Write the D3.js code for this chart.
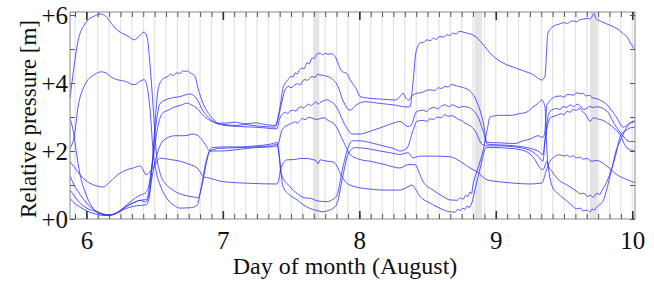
<!DOCTYPE html>
<html><head><meta charset="utf-8">
<script src="https://cdn.jsdelivr.net/npm/d3@7"></script>
<style>
body{margin:0;background:#fff;}
svg{display:block;}
text{font-family:"Liberation Serif","Times New Roman",serif;fill:#111;}
</style>
</head><body>
<svg id="chart" width="654" height="281"></svg>
<script>
// ---- data: [day of August, relative pressure m] ----
const seriesA = [[5.881,3.56],[5.910,4.5],[5.939,5.24],[5.983,5.7],[6.027,5.9],[6.064,5.98],[6.100,6.03],[6.144,5.96],[6.174,5.8],[6.210,5.62],[6.247,5.5],[6.306,5.38],[6.350,5.27],[6.393,5.4],[6.423,5.5],[6.445,5.35],[6.467,4.5],[6.489,3.3],[6.511,2.0],[6.540,1.35],[6.577,1.05],[6.613,0.91],[6.708,0.71],[6.782,0.65],[6.818,0.62],[6.848,1.0],[6.877,1.6],[6.906,2.0],[6.979,2.08],[7.126,2.1],[7.236,2.12],[7.346,2.15],[7.397,2.2],[7.412,1.9],[7.426,1.35],[7.492,0.95],[7.544,0.75],[7.602,0.62],[7.639,0.61],[7.697,0.53],[7.763,0.51],[7.807,0.58],[7.837,0.7],[7.873,1.4],[7.910,2.0],[7.947,2.3],[8.005,2.3],[8.078,2.25],[8.174,2.15],[8.247,2.08],[8.298,2.0],[8.349,2.09],[8.393,2.6],[8.423,2.88],[8.47,2.9],[8.495,2.87],[8.518,2.95],[8.545,2.93],[8.569,3.0],[8.60,2.98],[8.628,3.07],[8.65,3.02],[8.675,3.04],[8.701,3.0],[8.73,2.92],[8.75,2.9],[8.774,2.82],[8.811,2.75],[8.848,2.6],[8.899,2.2],[8.936,2.15],[9.031,2.15],[9.141,2.12],[9.251,2.02],[9.309,1.85],[9.346,1.7],[9.360,2.3],[9.382,2.8],[9.397,2.97],[9.448,3.05],[9.48,3.1],[9.50,3.06],[9.522,3.17],[9.545,3.14],[9.566,3.22],[9.59,3.2],[9.617,3.26],[9.635,3.16],[9.654,3.1],[9.67,3.0],[9.690,2.87],[9.715,2.98],[9.741,2.95],[9.785,2.9],[9.837,2.77],[9.910,2.48],[9.961,2.09],[10.027,1.99]];
const seriesB = [[5.881,2.1],[5.895,2.2],[5.910,2.4],[5.939,3.3],[5.983,3.9],[6.012,4.1],[6.042,4.2],[6.108,4.33],[6.144,4.3],[6.174,4.2],[6.210,4.12],[6.284,4.05],[6.350,3.95],[6.393,4.05],[6.423,4.1],[6.445,3.9],[6.467,3.2],[6.489,2.0],[6.511,1.4],[6.540,1.0],[6.591,0.6],[6.650,0.38],[6.686,0.32],[6.760,0.33],[6.811,0.4],[6.840,0.9],[6.877,1.7],[6.921,2.1],[6.994,2.12],[7.126,2.12],[7.236,2.15],[7.346,2.2],[7.397,2.25],[7.412,1.9],[7.441,0.95],[7.492,0.7],[7.544,0.56],[7.588,0.42],[7.639,0.31],[7.690,0.25],[7.734,0.21],[7.771,0.25],[7.807,0.31],[7.837,0.46],[7.881,1.3],[7.917,1.9],[7.969,2.1],[8.042,2.08],[8.152,2.0],[8.225,1.95],[8.298,1.9],[8.357,1.95],[8.393,1.8],[8.445,1.85],[8.555,1.85],[8.665,1.83],[8.716,1.75],[8.760,1.64],[8.811,1.5],[8.862,1.39],[8.936,1.15],[8.994,1.11],[9.119,1.06],[9.251,1.03],[9.338,1.06],[9.368,1.4],[9.397,1.7],[9.470,1.89],[9.50,1.85],[9.52,1.88],[9.545,1.83],[9.566,1.86],[9.59,1.8],[9.617,1.82],[9.64,1.76],[9.668,1.78],[9.70,1.7],[9.741,1.72],[9.815,1.55],[9.888,1.3],[9.961,1.16],[10.027,1.06]];
const seriesC = [[5.881,1.68],[5.917,1.5],[5.954,1.3],[5.990,1.15],[6.027,1.05],[6.078,0.97],[6.122,0.94],[6.174,1.1],[6.247,1.35],[6.298,1.45],[6.342,1.5],[6.393,1.56],[6.415,1.45],[6.437,1.3],[6.467,1.4],[6.503,1.6],[6.540,1.79],[6.613,1.75],[6.686,1.7],[6.760,1.6],[6.811,1.5],[6.833,1.39],[6.855,1.25],[6.906,1.2],[7.001,1.1],[7.199,1.05],[7.397,1.03],[7.412,1.2],[7.426,1.5],[7.470,1.74],[7.529,1.75],[7.566,1.78],[7.617,1.78],[7.654,1.75],[7.683,1.72],[7.697,1.62],[7.712,1.74],[7.763,1.7],[7.807,1.68],[7.837,1.55],[7.859,1.35],[7.910,1.05],[7.969,0.95],[8.078,0.88],[8.188,0.85],[8.298,0.85],[8.357,0.95],[8.386,1.0],[8.408,0.9],[8.445,0.66],[8.503,0.5],[8.569,0.36],[8.628,0.25],[8.665,0.21],[8.701,0.2],[8.72,0.28],[8.738,0.25],[8.76,0.32],[8.775,0.28],[8.789,0.38],[8.805,0.34],[8.826,0.5],[8.855,1.0],[8.892,1.6],[8.928,2.1],[8.994,2.1],[9.104,2.08],[9.214,2.0],[9.287,1.75],[9.324,1.5],[9.346,1.45],[9.375,1.7],[9.397,1.2],[9.419,0.91],[9.456,0.75],[9.492,0.62],[9.529,0.5],[9.566,0.37],[9.59,0.3],[9.617,0.32],[9.64,0.24],[9.668,0.26],[9.69,0.2],[9.705,0.3],[9.72,0.26],[9.741,0.36],[9.785,0.52],[9.815,0.9],[9.851,1.5],[9.881,2.0],[9.910,2.28],[9.946,2.6],[9.983,2.82],[10.027,2.9]];
const seriesD = [[5.881,2.95],[5.903,2.6],[5.925,2.0],[5.954,1.3],[5.990,0.8],[6.042,0.35],[6.100,0.15],[6.174,0.12],[6.232,0.2],[6.284,0.35],[6.357,0.5],[6.393,0.55],[6.430,0.5],[6.452,0.6],[6.489,1.4],[6.525,2.0],[6.562,2.3],[6.650,2.45],[6.723,2.45],[6.782,2.5],[6.833,2.4],[6.870,2.2],[6.906,2.0],[6.979,2.0],[7.126,2.05],[7.236,2.1],[7.346,2.12],[7.397,2.15],[7.419,2.4],[7.434,2.63],[7.470,2.75],[7.507,2.82],[7.53,2.86],[7.545,2.82],[7.566,2.9],[7.585,2.96],[7.602,2.92],[7.63,2.99],[7.654,2.97],[7.68,2.93],[7.712,2.95],[7.74,2.98],[7.771,2.9],[7.822,2.77],[7.881,2.3],[7.932,1.9],[8.005,1.75],[8.078,1.7],[8.188,1.6],[8.298,1.5],[8.357,1.6],[8.408,1.6],[8.445,1.3],[8.467,1.1],[8.540,0.85],[8.606,0.68],[8.665,0.56],[8.716,0.55],[8.74,0.62],[8.76,0.58],[8.78,0.7],[8.795,0.66],[8.811,0.8],[8.822,0.74],[8.833,1.0],[8.870,1.5],[8.906,2.0],[8.936,2.6],[8.958,3.0],[9.031,3.05],[9.104,3.05],[9.177,3.1],[9.229,3.15],[9.273,3.3],[9.309,3.4],[9.338,3.5],[9.360,3.3],[9.375,2.0],[9.382,1.6],[9.412,1.4],[9.448,1.2],[9.522,1.0],[9.595,0.81],[9.62,0.74],[9.646,0.76],[9.67,0.66],[9.690,0.7],[9.715,0.64],[9.741,0.76],[9.76,0.72],[9.778,0.84],[9.815,1.11],[9.873,1.79],[9.917,2.48],[9.954,2.6],[9.983,2.68],[10.027,2.7]];
const seriesE = [[5.881,1.26],[5.910,1.0],[5.932,0.85],[5.976,0.6],[6.027,0.36],[6.064,0.25],[6.100,0.18],[6.174,0.12],[6.247,0.25],[6.320,0.5],[6.393,0.7],[6.430,0.76],[6.452,0.9],[6.489,1.8],[6.518,2.6],[6.555,3.1],[6.599,3.2],[6.650,3.3],[6.694,3.35],[6.738,3.41],[6.774,3.35],[6.811,3.26],[6.855,3.05],[6.906,2.9],[6.965,2.8],[7.016,2.75],[7.126,2.72],[7.236,2.7],[7.309,2.68],[7.397,2.65],[7.412,2.9],[7.434,3.07],[7.46,3.14],[7.475,3.1],[7.492,3.18],[7.52,3.2],[7.535,3.17],[7.551,3.26],[7.575,3.3],[7.59,3.26],[7.602,3.3],[7.63,3.38],[7.645,3.33],[7.654,3.36],[7.685,3.44],[7.70,3.38],[7.712,3.42],[7.74,3.48],[7.763,3.51],[7.79,3.46],[7.822,3.36],[7.895,2.77],[7.947,2.5],[8.005,2.5],[8.078,2.58],[8.152,2.68],[8.247,2.82],[8.298,2.87],[8.357,2.72],[8.386,2.8],[8.401,3.0],[8.423,3.17],[8.47,3.2],[8.49,3.16],[8.518,3.25],[8.55,3.28],[8.575,3.24],[8.60,3.32],[8.628,3.36],[8.655,3.3],[8.68,3.36],[8.701,3.33],[8.73,3.28],[8.755,3.31],[8.796,3.29],[8.833,3.2],[8.870,3.0],[8.906,2.6],[8.936,2.2],[9.031,2.18],[9.141,2.15],[9.251,2.08],[9.309,2.0],[9.346,1.9],[9.360,2.3],[9.382,3.0],[9.397,3.17],[9.448,3.25],[9.47,3.22],[9.492,3.31],[9.52,3.28],[9.544,3.36],[9.57,3.3],[9.595,3.38],[9.62,3.32],[9.645,3.22],[9.668,3.26],[9.69,3.32],[9.705,3.28],[9.741,3.3],[9.815,3.17],[9.873,2.77],[9.925,2.48],[9.983,2.28],[10.027,2.28]];
const seriesF = [[5.881,0.85],[5.917,0.65],[5.954,0.47],[6.012,0.3],[6.078,0.21],[6.159,0.1],[6.232,0.2],[6.306,0.4],[6.357,0.5],[6.393,0.55],[6.437,0.57],[6.452,0.7],[6.481,1.6],[6.511,2.8],[6.540,3.4],[6.613,3.55],[6.686,3.6],[6.760,3.68],[6.804,3.56],[6.855,3.18],[6.906,2.95],[6.965,2.8],[7.016,2.78],[7.089,2.75],[7.163,2.78],[7.236,2.74],[7.309,2.72],[7.382,2.7],[7.419,3.2],[7.456,3.8],[7.48,3.9],[7.50,3.86],[7.529,3.95],[7.55,3.98],[7.565,3.94],[7.585,4.06],[7.602,4.1],[7.62,4.08],[7.654,4.2],[7.675,4.16],[7.695,4.26],[7.712,4.24],[7.74,4.22],[7.763,4.2],[7.807,4.1],[7.844,3.9],[7.873,3.56],[7.932,3.2],[7.976,3.35],[8.042,3.45],[8.152,3.4],[8.262,3.35],[8.335,3.3],[8.371,3.3],[8.393,4.0],[8.415,4.9],[8.445,5.18],[8.47,5.2],[8.496,5.27],[8.52,5.25],[8.545,5.32],[8.56,5.28],[8.591,5.37],[8.62,5.35],[8.64,5.42],[8.66,5.4],[8.687,5.47],[8.71,5.44],[8.73,5.52],[8.760,5.5],[8.785,5.47],[8.811,5.45],[8.870,5.3],[8.914,5.1],[8.958,4.88],[9.009,4.7],[9.053,4.59],[9.141,4.45],[9.229,4.32],[9.273,4.25],[9.309,4.14],[9.338,4.09],[9.360,4.2],[9.382,5.47],[9.419,5.66],[9.470,5.74],[9.50,5.78],[9.52,5.75],[9.544,5.8],[9.57,5.83],[9.59,5.8],[9.617,5.86],[9.64,5.88],[9.668,5.9],[9.69,5.88],[9.705,5.95],[9.719,6.05],[9.734,5.9],[9.778,5.8],[9.837,5.7],[9.888,5.6],[9.925,5.48],[9.961,5.36],[9.990,5.15],[10.027,4.96]];
const seriesG = [[5.881,0.6],[5.917,0.45],[5.954,0.35],[6.012,0.22],[6.064,0.15],[6.137,0.1],[6.210,0.15],[6.284,0.3],[6.342,0.37],[6.393,0.4],[6.437,0.42],[6.459,0.6],[6.481,1.5],[6.503,2.8],[6.525,3.8],[6.555,4.1],[6.599,4.2],[6.62,4.26],[6.635,4.22],[6.66,4.3],[6.686,4.28],[6.705,4.36],[6.723,4.34],[6.74,4.36],[6.760,4.3],[6.796,4.2],[6.818,3.85],[6.855,3.4],[6.884,3.17],[6.928,2.95],[6.965,2.82],[7.016,2.82],[7.089,2.85],[7.163,2.8],[7.236,2.83],[7.309,2.78],[7.382,2.75],[7.419,3.3],[7.441,3.85],[7.478,4.1],[7.50,4.2],[7.515,4.17],[7.529,4.3],[7.545,4.27],[7.56,4.38],[7.58,4.44],[7.595,4.42],[7.617,4.6],[7.632,4.56],[7.654,4.74],[7.67,4.72],[7.69,4.86],[7.712,4.88],[7.73,4.83],[7.75,4.87],[7.771,4.85],[7.80,4.86],[7.822,4.78],[7.873,4.34],[7.910,4.28],[7.932,4.1],[7.983,3.79],[8.005,3.6],[8.078,3.55],[8.188,3.52],[8.262,3.5],[8.298,3.6],[8.320,3.7],[8.342,3.55],[8.364,3.5],[8.379,3.6],[8.423,3.7],[8.46,3.72],[8.49,3.78],[8.518,3.8],[8.55,3.78],[8.58,3.86],[8.60,3.84],[8.628,3.9],[8.65,3.88],[8.675,3.96],[8.701,3.93],[8.725,3.9],[8.75,3.88],[8.774,3.85],[8.80,3.8],[8.826,3.7],[8.870,3.36],[8.906,2.88],[8.936,2.25],[9.031,2.24],[9.141,2.22],[9.199,2.3],[9.251,2.35],[9.309,2.45],[9.346,2.4],[9.360,2.6],[9.375,3.36],[9.448,3.61],[9.48,3.62],[9.50,3.58],[9.52,3.66],[9.544,3.66],[9.57,3.64],[9.595,3.72],[9.615,3.68],[9.639,3.7],[9.66,3.62],[9.685,3.64],[9.712,3.56],[9.74,3.54],[9.763,3.5],[9.815,3.36],[9.888,2.97],[9.932,2.7],[9.983,2.82],[10.027,2.87]];

const dayTicks = [6, 7, 8, 9, 10];
const pressureLabelTicks = [0, 2, 4, 6];
const pressureTicks = [0, 1, 2, 3, 4, 5, 6];
const bandStart = [7.663, 8.845, 9.690];
const bandEnd   = [7.707, 8.900, 9.744];

// ---- layout ----
const W = 654, H = 281;
const m = {top: 12, right: 19, bottom: 62, left: 70};
const FONT = '"Liberation Serif","Times New Roman",serif';
const x = d3.scaleLinear().domain([5.88, 10.02]).range([m.left, W - m.right]);
const y = d3.scaleLinear().domain([0, 6.09]).range([H - m.bottom, m.top]);
const twoHour = d3.range(Math.ceil(5.88 * 12), Math.floor(10.02 * 12) + 1).map(k => k / 12);

const svg = d3.select('#chart');
svg.append('clipPath').attr('id', 'clip').append('rect')
  .attr('x', m.left).attr('y', m.top)
  .attr('width', W - m.left - m.right).attr('height', H - m.top - m.bottom);

// shaded bands
svg.append('g').selectAll('rect').data(bandStart).join('rect')
  .attr('x', d => x(d)).attr('width', (d, i) => x(bandEnd[i]) - x(d))
  .attr('y', m.top).attr('height', H - m.top - m.bottom)
  .attr('fill', '#e4e4e4');

// vertical grid every two hours
svg.append('g').selectAll('line').data(twoHour).join('line')
  .attr('x1', d => x(d)).attr('x2', d => x(d))
  .attr('y1', m.top).attr('y2', H - m.bottom)
  .attr('stroke', '#e3e3e3').attr('stroke-width', 1.2);

// series
const series = [seriesA, seriesB, seriesC, seriesD, seriesE, seriesF, seriesG];
const line = d3.line().x(d => x(d[0])).y(d => y(d[1])).curve(d3.curveMonotoneX);
svg.append('g').attr('clip-path', 'url(#clip)')
  .selectAll('path').data(series).join('path')
  .attr('d', line).attr('fill', 'none')
  .attr('stroke', '#2f2fff').attr('stroke-width', 1).attr('stroke-opacity', 0.8);

// frame
svg.append('rect').attr('x', m.left).attr('y', m.top)
  .attr('width', W - m.left - m.right).attr('height', H - m.top - m.bottom)
  .attr('fill', 'none').attr('stroke', '#8a8a8a').attr('stroke-width', 1);

function styleAxis(g, color, sw) {
  g.select('.domain').remove();
  g.selectAll('.tick line').attr('stroke', color).attr('stroke-width', sw);
}
// bottom minor + major
svg.append('g').attr('transform', `translate(0,${H - m.bottom})`)
  .call(d3.axisBottom(x).tickValues(twoHour).tickSize(-5).tickFormat(''))
  .call(g => styleAxis(g, '#555', 1));
const xAxis = svg.append('g').attr('transform', `translate(0,${H - m.bottom})`)
  .call(d3.axisBottom(x).tickValues(dayTicks).tickSize(-8).tickPadding(12).tickFormat(d3.format('d')))
  .call(g => styleAxis(g, '#333', 1.6));
xAxis.attr('font-family', FONT);
xAxis.selectAll('text').style('font-family', FONT).style('font-size', '25px').attr('fill', '#111');
// top
svg.append('g').attr('transform', `translate(0,${m.top})`)
  .call(d3.axisTop(x).tickValues(twoHour).tickSize(-5).tickFormat(''))
  .call(g => styleAxis(g, '#555', 1));
svg.append('g').attr('transform', `translate(0,${m.top})`)
  .call(d3.axisTop(x).tickValues(dayTicks).tickSize(-8).tickFormat(''))
  .call(g => styleAxis(g, '#333', 1.6));
// left
svg.append('g').attr('transform', `translate(${m.left},0)`)
  .call(d3.axisLeft(y).tickValues(pressureTicks).tickSize(-5).tickFormat(''))
  .call(g => styleAxis(g, '#555', 1));
const yAxis = svg.append('g').attr('transform', `translate(${m.left},0)`)
  .call(d3.axisLeft(y).tickValues(pressureLabelTicks).tickSize(0).tickPadding(2).tickFormat(d => '+' + d))
  .call(g => g.select('.domain').remove());
yAxis.attr('font-family', FONT);
yAxis.selectAll('text').style('font-family', FONT).style('font-size', '25px').attr('fill', '#111');
// right
svg.append('g').attr('transform', `translate(${W - m.right},0)`)
  .call(d3.axisRight(y).tickValues(pressureTicks).tickSize(-5).tickFormat(''))
  .call(g => styleAxis(g, '#555', 1));

// titles
svg.append('text').attr('x', 345).attr('y', 274).attr('text-anchor', 'middle')
  .style('font-family', FONT).style('font-size', '24px').text('Day of month (August)');
svg.append('text').attr('transform', 'translate(36,119) rotate(-90)').attr('text-anchor', 'middle')
  .style('font-family', FONT).style('font-size', '23px').text('Relative pressure [m]');
</script>
</body></html>
